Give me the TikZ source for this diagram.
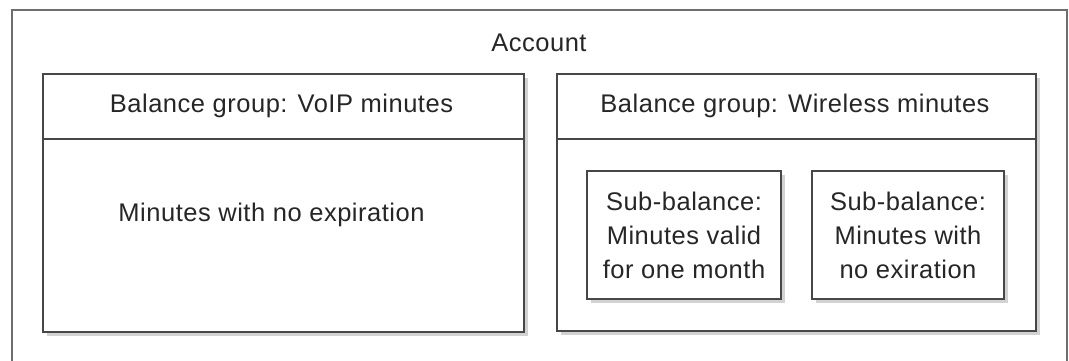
\documentclass[tikz,border=0pt]{standalone}
\usepackage{fontspec}
\setmainfont[LetterSpace=2]{Liberation Sans}
\usetikzlibrary{shadows}
\definecolor{linec}{HTML}{474747}
\definecolor{outerc}{HTML}{6E6E6E}
\definecolor{textc}{HTML}{262626}
\tikzset{
  grpbox/.style={draw=linec, line width=2.2pt, fill=white, inner sep=0pt, outer sep=0pt,
    drop shadow={shadow xshift=3.5pt, shadow yshift=-3.5pt, fill=black!35}},
  outerbox/.style={draw=outerc, line width=2pt, fill=white, inner sep=0pt, outer sep=0pt},
  txt/.style={text=textc, font=\fontsize{25.5}{34}\selectfont, inner sep=0pt, align=center},
  divider/.style={draw=linec, line width=2.2pt}
}
\begin{document}
\begin{tikzpicture}[x=1pt,y=-1pt]
\useasboundingbox (0,0) rectangle (1069,360);
\clip (0,0) rectangle (1069,360);
\fill[white] (0,0) rectangle (1069,360);
% outer account box
\node[outerbox, anchor=north west, minimum width=1055pt, minimum height=400pt] (account) at (12,10) {};
\node[txt] (accounttitle) at (539,43) {Account};
% VoIP group
\node[grpbox, anchor=north west, minimum width=481pt, minimum height=258pt] (voip) at (43,74) {};
\draw[divider] ([yshift=-65pt]voip.north west) -- ([yshift=-65pt]voip.north east);
\node[txt] (voiptitle) at (281.5,106) {Balance group: VoIP minutes};
\node[txt] (voipbody) at (271.5,215) {Minutes with no expiration};
% Wireless group
\node[grpbox, anchor=north west, minimum width=479pt, minimum height=257pt] (wireless) at (557,74) {};
\draw[divider] ([yshift=-65pt]wireless.north west) -- ([yshift=-65pt]wireless.north east);
\node[txt] (wirelesstitle) at (795,106) {Balance group: Wireless minutes};
% sub-balances
\node[grpbox, anchor=north west, minimum width=194pt, minimum height=128pt] (subone) at (587,171) {};
\node[txt] (subonetext) at (subone.center) {Sub-balance:\\Minutes valid\\for one month};
\node[grpbox, anchor=north west, minimum width=192pt, minimum height=128pt] (subtwo) at (812,171) {};
\node[txt] (subtwotext) at (subtwo.center) {Sub-balance:\\Minutes with\\no exiration};
\end{tikzpicture}
\end{document}
